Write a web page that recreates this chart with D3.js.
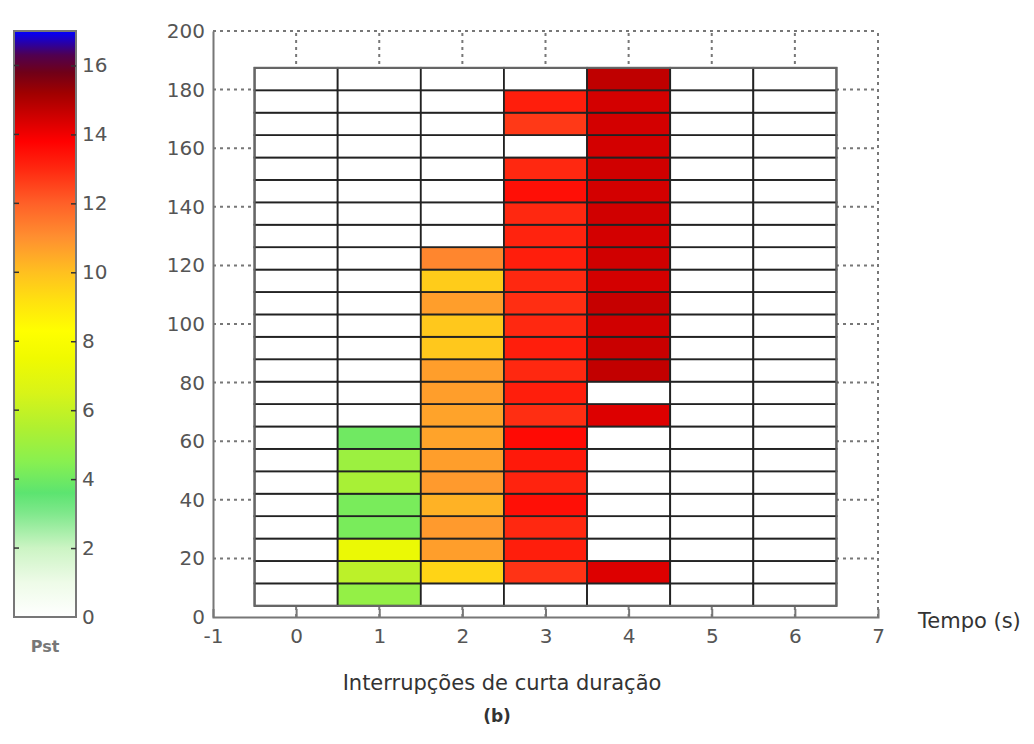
<!DOCTYPE html>
<html>
<head>
<meta charset="utf-8">
<script src="https://cdn.jsdelivr.net/npm/d3@7"></script>
<style>
  body { margin: 0; background: #fff; }
  text { font-family: "DejaVu Sans", sans-serif; }
</style>
</head>
<body>
<svg id="chart"></svg>
<script>
    var columns = [0, 1, 2, 3, 4, 5, 6];
    var rowLevels = [7.65, 15.3, 22.95, 30.6, 38.25, 45.9, 53.55, 61.2, 68.85, 76.5, 84.15, 91.8,
                     99.45, 107.1, 114.75, 122.4, 130.05, 137.7, 145.35, 153, 160.65, 168.3, 175.95, 183.6];
    var rowHeight = 7.65;

    // Pst por coluna, de baixo para cima (0 = vazio)
    var pst0 = [0, 0, 0, 0, 0, 0, 0, 0, 0, 0, 0, 0, 0, 0, 0, 0, 0, 0, 0, 0, 0, 0, 0, 0];
    var pst1 = [4.8, 5.8, 7.3, 4.2, 4.2, 5.3, 5.0, 4.0, 0, 0, 0, 0, 0, 0, 0, 0, 0, 0, 0, 0, 0, 0, 0, 0];
    var pst2 = [0, 9.5, 10.7, 10.8, 10.3, 10.8, 10.7, 10.6, 10.6, 10.7, 10.7, 9.8, 9.8, 10.7, 9.7, 11.2, 0, 0, 0, 0, 0, 0, 0, 0];
    var pst3 = [0, 12.8, 13.2, 13.0, 13.5, 13.1, 13.3, 13.6, 12.9, 13.2, 13.0, 13.2, 13.0, 12.9, 13.0, 13.2, 13.1, 13.0, 13.5, 13.0, 0, 12.7, 13.2, 0];
    var pst4 = [0, 14.3, 0, 0, 0, 0, 0, 0, 14.3, 0, 14.7, 14.6, 14.5, 14.65, 14.45, 14.5, 14.45, 14.5, 14.45, 14.5, 14.45, 14.45, 14.45, 14.75];
    var pst5 = [0, 0, 0, 0, 0, 0, 0, 0, 0, 0, 0, 0, 0, 0, 0, 0, 0, 0, 0, 0, 0, 0, 0, 0];
    var pst6 = [0, 0, 0, 0, 0, 0, 0, 0, 0, 0, 0, 0, 0, 0, 0, 0, 0, 0, 0, 0, 0, 0, 0, 0];
    var pstColumns = [pst0, pst1, pst2, pst3, pst4, pst5, pst6];

    var xTicks = [-1, 0, 1, 2, 3, 4, 5, 6, 7];
    var yTicks = [0, 20, 40, 60, 80, 100, 120, 140, 160, 180, 200];
    var cbTicks = [0, 2, 4, 6, 8, 10, 12, 14, 16];

    var cmapStops = [0, 1, 2, 3, 3.6, 4.5, 5.5, 6.5, 7.5, 8.3, 9.2, 10, 11, 12, 13, 13.8, 14.5, 15.2, 15.8, 16.3, 17];
    var cmapColors = ["#ffffff", "#eefbe8", "#ccf4c4", "#80e88c", "#5ce470", "#88f050", "#b0f030", "#d8f418",
                      "#f0fa00", "#ffff00", "#ffe010", "#ffc020", "#ff9030", "#ff6028", "#ff2810", "#ff0000",
                      "#d00000", "#a00000", "#700018", "#500050", "#0000ff"];

    var width = 1034, height = 744;

    var svg = d3.select("#chart")
        .attr("width", width)
        .attr("height", height);

    var color = d3.scaleLinear()
        .domain(cmapStops)
        .range(cmapColors)
        .clamp(true);

    var x = d3.scaleLinear().domain([-1, 7]).range([213, 878]);
    var y = d3.scaleLinear().domain([0, 200]).range([617, 31]);

    // grade pontilhada
    var g = svg.append("g");
    g.selectAll(".gy").data(yTicks.slice(1)).enter().append("line")
        .attr("x1", x(-1)).attr("x2", x(7))
        .attr("y1", function(d) { return y(d); }).attr("y2", function(d) { return y(d); })
        .attr("stroke", "#777").attr("stroke-width", 2).attr("stroke-dasharray", "3,4");
    g.selectAll(".gx").data(xTicks.slice(1)).enter().append("line")
        .attr("x1", function(d) { return x(d); }).attr("x2", function(d) { return x(d); })
        .attr("y1", y(0)).attr("y2", y(200))
        .attr("stroke", "#777").attr("stroke-width", 2).attr("stroke-dasharray", "3,4");

    // celulas
    var cells = [];
    columns.forEach(function(c, i) {
        rowLevels.forEach(function(r, j) {
            cells.push({ col: c, row: r, value: pstColumns[i][j] });
        });
    });

    g.selectAll(".cell").data(cells).enter().append("rect")
        .attr("x", function(d) { return x(d.col - 0.5); })
        .attr("y", function(d) { return y(d.row + rowHeight / 2); })
        .attr("width", x(0.5) - x(-0.5))
        .attr("height", y(0) - y(rowHeight))
        .attr("fill", function(d) { return color(d.value); })
        .attr("stroke", "#222")
        .attr("stroke-width", 1.8);

    g.append("rect")
        .attr("x", x(-0.5)).attr("y", y(rowLevels[rowLevels.length - 1] + rowHeight / 2))
        .attr("width", x(6.5) - x(-0.5))
        .attr("height", y(rowLevels[0] - rowHeight / 2) - y(rowLevels[rowLevels.length - 1] + rowHeight / 2))
        .attr("fill", "none").attr("stroke", "#666").attr("stroke-width", 2);

    // eixos
    var xAxis = d3.axisBottom(x).tickValues(xTicks).tickFormat(function(d) { return String(d); })
        .tickSize(-8).tickPadding(12);
    var yAxis = d3.axisLeft(y).tickValues(yTicks).tickSize(0).tickPadding(8);

    var ax = g.append("g").attr("transform", "translate(0," + y(0) + ")").call(xAxis);
    var ay = g.append("g").attr("transform", "translate(" + x(-1) + ",0)").call(yAxis);

    [ax, ay].forEach(function(a) {
        a.select(".domain").attr("stroke", "#777").attr("stroke-width", 2);
        a.selectAll(".tick line").attr("stroke", "#777").attr("stroke-width", 2);
        a.selectAll(".tick text").attr("fill", "#555").style("font-size", "20px").style("font-family", "DejaVu Sans");
    });
    ax.selectAll(".tick").filter(function(d) { return d === -1 || d === 7; }).select("line").remove();

    svg.append("text")
        .attr("x", 918).attr("y", 628)
        .attr("fill", "#333").style("font-size", "21px")
        .text("Tempo (s)");

    svg.append("text")
        .attr("x", 502).attr("y", 690)
        .attr("text-anchor", "middle")
        .attr("fill", "#333").style("font-size", "21px")
        .text("Interrupções de curta duração");

    svg.append("text")
        .attr("x", 497).attr("y", 722)
        .attr("text-anchor", "middle")
        .attr("fill", "#333").style("font-size", "17px").style("font-weight", "bold")
        .text("(b)");

    // barra de cores
    var cb = d3.scaleLinear().domain([0, 17]).range([617, 31]);
    var cbX = 14, cbW = 62;

    var defs = svg.append("defs");
    var grad = defs.append("linearGradient")
        .attr("id", "cbgrad")
        .attr("x1", 0).attr("y1", 1).attr("x2", 0).attr("y2", 0);
    grad.selectAll("stop").data(cmapStops).enter().append("stop")
        .attr("offset", function(d) { return d / 17; })
        .attr("stop-color", function(d, i) { return cmapColors[i]; });

    svg.append("rect")
        .attr("x", cbX).attr("y", cb(17))
        .attr("width", cbW).attr("height", cb(0) - cb(17))
        .attr("fill", "url(#cbgrad)")
        .attr("stroke", "#777").attr("stroke-width", 2);

    var cbAxis = svg.append("g").attr("transform", "translate(" + (cbX + cbW) + ",0)")
        .call(d3.axisRight(cb).tickValues(cbTicks).tickSize(-5).tickPadding(6));
    cbAxis.select(".domain").remove();
    cbAxis.selectAll(".tick line").attr("stroke", "#333").attr("stroke-width", 1.5);
    cbAxis.selectAll(".tick text").attr("fill", "#555").style("font-size", "20px").style("font-family", "DejaVu Sans");
    cbAxis.selectAll(".tick").filter(function(d) { return d === 0; }).select("line").remove();

    svg.append("g").selectAll("line").data(cbTicks.slice(1)).enter().append("line")
        .attr("x1", cbX).attr("x2", cbX + 5)
        .attr("y1", function(d) { return cb(d); }).attr("y2", function(d) { return cb(d); })
        .attr("stroke", "#333").attr("stroke-width", 1.5);

    svg.append("text")
        .attr("x", cbX + cbW / 2).attr("y", 652)
        .attr("text-anchor", "middle")
        .attr("fill", "#777").style("font-size", "16px").style("font-weight", "bold")
        .text("Pst");
</script>
</body>
</html>
